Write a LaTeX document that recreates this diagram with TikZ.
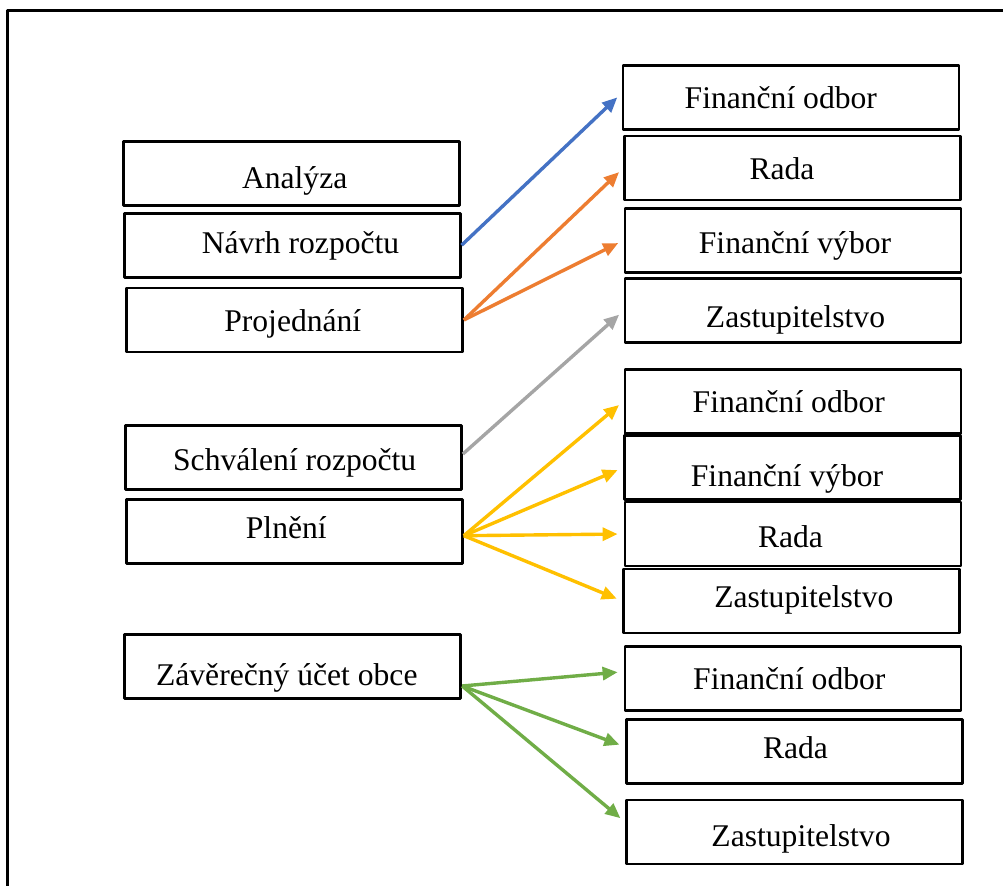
\documentclass[tikz,border=0pt]{standalone}
\usepackage{fontspec}
\setmainfont{Liberation Serif}
\usetikzlibrary{arrows.meta}
\definecolor{accblue}{HTML}{4472C4}
\definecolor{accorange}{HTML}{ED7D31}
\definecolor{accgray}{HTML}{A5A5A5}
\definecolor{accyellow}{HTML}{FFC000}
\definecolor{accgreen}{HTML}{70AD47}
\tikzset{
  stepbox/.style={draw,line width=1.4bp,minimum width=168bp,minimum height=32bp,inner sep=0pt},
  steptext/.style={anchor=base,inner sep=0pt,font=\fontsize{15.8bp}{19bp}\selectfont},
  conn/.style={line width=1.7bp,-{Triangle[length=7.5bp,width=6.5bp]},shorten >=3bp},
}
\begin{document}
\begin{tikzpicture}[line join=bevel,]
\useasboundingbox (0bp,0bp) rectangle (501.5bp,443bp);
%%
\draw [line width=1.5bp] (3.5bp,0bp) -- (3.5bp,437.5bp) -- (501.5bp,437.5bp);
%
  \node (node_0) at (145.9bp,356.25bp) [stepbox] {};
  \node (node_1) at (146.1bp,320.4bp) [stepbox] {};
  \node (node_2) at (147.25bp,283bp) [stepbox] {};
  \node (node_3) at (146.75bp,214.4bp) [stepbox] {};
  \node (node_4) at (147.2bp,177.15bp) [stepbox] {};
  \node (node_5) at (146.4bp,109.6bp) [stepbox] {};
  \node (node_6) at (395.5bp,394.35bp) [stepbox] {};
  \node (node_7) at (396.4bp,359bp) [stepbox] {};
  \node (node_8) at (396.5bp,322.8bp) [stepbox] {};
  \node (node_9) at (396.5bp,287.65bp) [stepbox] {};
  \node (node_10) at (396.5bp,242.4bp) [stepbox] {};
  \node (node_11) at (396.25bp,209.1bp) [stepbox] {};
  \node (node_12) at (396.5bp,176bp) [stepbox] {};
  \node (node_13) at (395.85bp,142.5bp) [stepbox] {};
  \node (node_14) at (396.5bp,103.75bp) [stepbox] {};
  \node (node_15) at (397.2bp,67.1bp) [stepbox] {};
  \node (node_16) at (397.2bp,27bp) [stepbox] {};
%
  \node (text_0) at (147.35bp,348.85bp) [steptext] {Analýza};
  \node (text_1) at (150.25bp,316bp) [steptext] {Návrh rozpočtu};
  \node (text_2) at (146.4bp,277.15bp) [steptext] {Projednání};
  \node (text_3) at (147.35bp,207.65bp) [steptext] {Schválení rozpočtu};
  \node (text_4) at (143.15bp,173.85bp) [steptext] {Plnění};
  \node (text_5) at (143.4bp,100.15bp) [steptext] {Závěrečný účet obce};
  \node (text_6) at (390.4bp,388.85bp) [steptext] {Finanční odbor};
  \node (text_7) at (391bp,353bp) [steptext] {Rada};
  \node (text_8) at (397.5bp,316.35bp) [steptext] {Finanční výbor};
  \node (text_9) at (397.75bp,279.15bp) [steptext] {Zastupitelstvo};
  \node (text_10) at (394.4bp,236.65bp) [steptext] {Finanční odbor};
  \node (text_11) at (393.5bp,199.65bp) [steptext] {Finanční výbor};
  \node (text_12) at (395.25bp,169.15bp) [steptext] {Rada};
  \node (text_13) at (401.9bp,139.35bp) [steptext] {Zastupitelstvo};
  \node (text_14) at (394.65bp,98bp) [steptext] {Finanční odbor};
  \node (text_15) at (397.75bp,63.5bp) [steptext] {Rada};
  \node (text_16) at (400.5bp,20bp) [steptext] {Zastupitelstvo};
%
  \draw [conn,accblue] (node_1.east) -- ([yshift=2bp]node_6.west);
  \draw [conn,accorange] (node_2.east) -- (node_7.west);
  \draw [conn,accorange] (node_2.east) -- (node_8.west);
  \draw [conn,accgray] ([yshift=1.6bp]node_3.east) -- (node_9.west);
  \draw [conn,accyellow] ([yshift=-2bp]node_4.east) -- (node_10.west);
  \draw [conn,accyellow] ([yshift=-2bp]node_4.east) -- (node_11.west);
  \draw [conn,accyellow] ([yshift=-2bp]node_4.east) -- (node_12.west);
  \draw [conn,accyellow] ([yshift=-2bp]node_4.east) -- (node_13.west);
  \draw [conn,accgreen] ([yshift=-9.6bp]node_5.east) -- ([yshift=3.4bp]node_14.west);
  \draw [conn,accgreen] ([yshift=-9.6bp]node_5.east) -- ([yshift=2.5bp]node_15.west);
  \draw [conn,accgreen] ([yshift=-9.6bp]node_5.east) -- ([yshift=5bp]node_16.west);
%
\end{tikzpicture}
\end{document}
